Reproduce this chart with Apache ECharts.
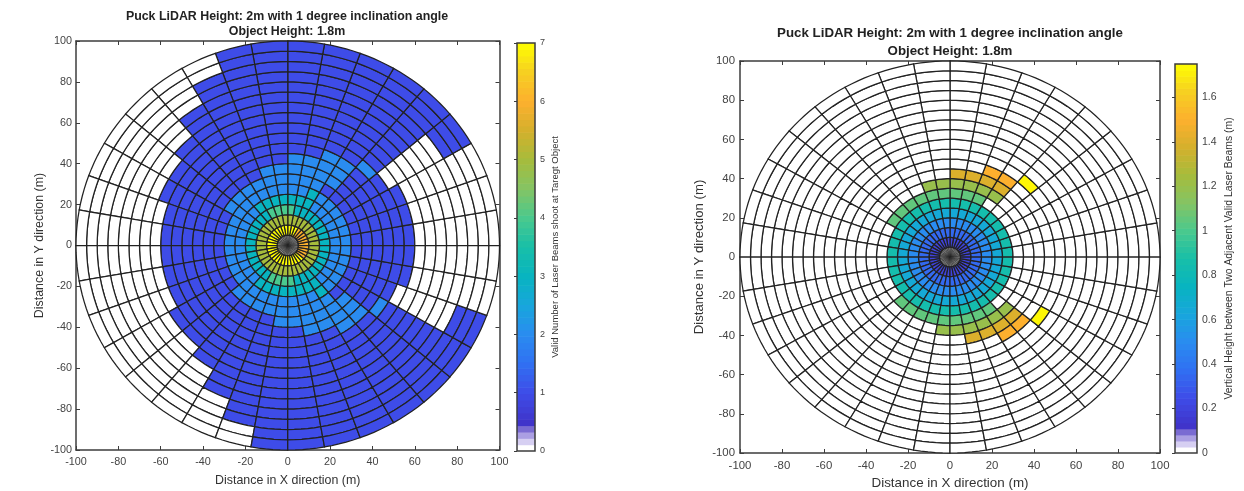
<!DOCTYPE html>
<html><head><meta charset="utf-8">
<style>html,body{margin:0;padding:0;background:#fff}#c{width:1244px;height:491px}</style>
<script src="https://cdn.jsdelivr.net/npm/echarts@6/dist/echarts.min.js"></script>
</head><body><div id="c"></div>
<script>
// rows = rings of 5 m (0-5, 5-10, ...), columns = sectors of 10 degrees counter-clockwise from +X
const ringStep = 5, sectorStep = 10;
const beamCounts = [
[0,0,0,0,0,0,0,0,0,0,0,0,0,0,0,0,0,0,0,0,0,0,0,0,0,0,0,0,0,0,0,0,0,0,0,0],
[6,6,6,6,6,6,7,7,7,7,7,7,7,7,7,7,7,7,7,7,7,7,7,7,7,7,7,7,7,7,7,7,6,6,6,6],
[5,5,5,5,5,5,5,5,5,5,5,5,5,5,5,5,5,5,5,5,5,5,5,5,5,5,5,5,5,5,5,5,5,5,5,5],
[3,3,3,3,3,3,3,3,4,4,4,4,3,3,3,3,3,3,3,3,3,3,3,3,4,4,4,4,3,3,3,3,3,3,3,3],
[2,2,2,2,2,2,3,3,3,3,3,3,3,2,2,2,2,2,2,2,2,2,2,3,3,3,3,3,3,3,3,2,2,2,2,2],
[2,2,2,2,2,2,3,2,2,2,2,2,2,2,2,2,2,2,2,2,2,2,2,2,2,2,2,2,2,2,3,2,2,2,2,2],
[1,1,1,1,1,1,2,2,2,2,2,2,2,2,2,1,1,1,1,1,1,1,2,2,2,2,2,2,2,2,2,1,1,1,1,1],
[1,1,1,1,1,2,2,2,2,2,2,1,1,1,1,1,1,1,1,1,1,1,1,1,1,1,2,2,2,2,2,2,1,1,1,1],
[1,1,1,1,1,2,2,2,2,1,1,1,1,1,1,1,1,1,1,1,1,1,1,1,1,1,1,1,2,2,2,2,1,1,1,1],
[1,1,1,1,1,2,2,1,1,1,1,1,1,1,1,1,1,1,1,1,1,1,1,1,1,1,1,1,1,1,2,2,1,1,1,1],
[1,1,1,1,2,1,1,1,1,1,1,1,1,1,1,1,1,1,1,1,1,1,1,1,1,1,1,1,1,1,1,1,2,1,1,1],
[1,1,1,0,1,1,1,1,1,1,1,1,1,1,1,1,1,1,1,1,1,1,1,1,1,1,1,1,1,1,1,1,1,0,1,1],
[0,0,0,0,1,1,1,1,1,1,1,1,1,1,1,1,0,0,0,0,0,1,1,1,1,1,1,1,1,1,1,1,1,0,0,0],
[0,0,0,0,1,1,1,1,1,1,1,1,1,1,0,0,0,0,0,0,0,0,0,1,1,1,1,1,1,1,1,1,1,0,0,0],
[0,0,0,0,1,1,1,1,1,1,1,1,1,0,0,0,0,0,0,0,0,0,0,0,1,1,1,1,1,1,1,1,1,0,0,0],
[0,0,0,0,1,1,1,1,1,1,1,1,1,0,0,0,0,0,0,0,0,0,0,0,1,1,1,1,1,1,1,1,1,0,0,0],
[0,0,0,0,1,1,1,1,1,1,1,1,0,0,0,0,0,0,0,0,0,0,0,0,0,1,1,1,1,1,1,1,1,0,0,0],
[0,0,0,1,1,1,1,1,1,1,1,1,0,0,0,0,0,0,0,0,0,0,0,0,0,1,1,1,1,1,1,1,1,1,0,0],
[0,0,0,1,1,1,1,1,1,1,1,0,0,0,0,0,0,0,0,0,0,0,0,0,0,0,1,1,1,1,1,1,1,1,0,0],
[0,0,0,1,1,1,1,1,1,1,1,0,0,0,0,0,0,0,0,0,0,0,0,0,0,0,1,1,1,1,1,1,1,1,0,0]
];
const Z = 0;
const beamGaps = [
[Z,Z,Z,Z,Z,Z,Z,Z,Z,Z,Z,Z,Z,Z,Z,Z,Z,Z,Z,Z,Z,Z,Z,Z,Z,Z,Z,Z,Z,Z,Z,Z,Z,Z,Z,Z],
[.2,.2,.2,.2,.2,.2,.2,.2,.2,.2,.2,.2,.2,.2,.2,.2,.2,.2,.2,.2,.2,.2,.2,.2,.2,.2,.2,.2,.2,.2,.2,.2,.2,.2,.2,.2],
[.35,.35,.35,.35,.35,.35,.35,.35,.35,.35,.35,.35,.35,.35,.35,.35,.35,.35,.35,.35,.35,.35,.35,.35,.35,.35,.35,.35,.35,.35,.35,.35,.35,.35,.35,.35],
[.5,.5,.5,.5,.5,.5,.5,.5,.5,.5,.5,.5,.5,.5,.5,.5,.5,.5,.5,.5,.5,.5,.5,.5,.5,.5,.5,.5,.5,.5,.5,.5,.5,.5,.5,.5],
[.65,.65,.65,.65,.65,.65,.65,.65,.65,.65,.65,.65,.65,.65,.65,.65,.65,.65,.65,.65,.65,.65,.65,.65,.65,.65,.65,.65,.65,.65,.65,.65,.65,.65,.65,.65],
[.85,.85,.85,.85,.85,.85,.85,.85,.85,.85,.85,.85,.85,.85,.85,.85,.85,.85,.85,.85,.85,.85,.85,.85,.85,.85,.85,.85,.85,.85,.85,.85,.85,.85,.85,.85],
[Z,Z,Z,Z,Z,Z,1.05,1.05,1.05,1.05,1.05,1.05,1.05,1.05,1.05,Z,Z,Z,Z,Z,Z,Z,1.05,1.05,1.05,1.05,1.05,1.05,1.05,1.05,1.05,Z,Z,Z,Z,Z],
[Z,Z,Z,Z,Z,1.2,1.2,1.2,1.2,1.2,1.2,Z,Z,Z,Z,Z,Z,Z,Z,Z,Z,Z,Z,Z,Z,Z,1.2,1.2,1.2,1.2,1.2,1.2,Z,Z,Z,Z],
[Z,Z,Z,Z,Z,1.4,1.4,1.4,1.4,Z,Z,Z,Z,Z,Z,Z,Z,Z,Z,Z,Z,Z,Z,Z,Z,Z,Z,Z,1.4,1.4,1.4,1.4,Z,Z,Z,Z],
[Z,Z,Z,Z,Z,1.5,1.5,Z,Z,Z,Z,Z,Z,Z,Z,Z,Z,Z,Z,Z,Z,Z,Z,Z,Z,Z,Z,Z,Z,Z,1.5,1.5,Z,Z,Z,Z],
[Z,Z,Z,Z,1.73,Z,Z,Z,Z,Z,Z,Z,Z,Z,Z,Z,Z,Z,Z,Z,Z,Z,Z,Z,Z,Z,Z,Z,Z,Z,Z,Z,1.73,Z,Z,Z],
[Z,Z,Z,Z,Z,Z,Z,Z,Z,Z,Z,Z,Z,Z,Z,Z,Z,Z,Z,Z,Z,Z,Z,Z,Z,Z,Z,Z,Z,Z,Z,Z,Z,Z,Z,Z],
[Z,Z,Z,Z,Z,Z,Z,Z,Z,Z,Z,Z,Z,Z,Z,Z,Z,Z,Z,Z,Z,Z,Z,Z,Z,Z,Z,Z,Z,Z,Z,Z,Z,Z,Z,Z],
[Z,Z,Z,Z,Z,Z,Z,Z,Z,Z,Z,Z,Z,Z,Z,Z,Z,Z,Z,Z,Z,Z,Z,Z,Z,Z,Z,Z,Z,Z,Z,Z,Z,Z,Z,Z],
[Z,Z,Z,Z,Z,Z,Z,Z,Z,Z,Z,Z,Z,Z,Z,Z,Z,Z,Z,Z,Z,Z,Z,Z,Z,Z,Z,Z,Z,Z,Z,Z,Z,Z,Z,Z],
[Z,Z,Z,Z,Z,Z,Z,Z,Z,Z,Z,Z,Z,Z,Z,Z,Z,Z,Z,Z,Z,Z,Z,Z,Z,Z,Z,Z,Z,Z,Z,Z,Z,Z,Z,Z],
[Z,Z,Z,Z,Z,Z,Z,Z,Z,Z,Z,Z,Z,Z,Z,Z,Z,Z,Z,Z,Z,Z,Z,Z,Z,Z,Z,Z,Z,Z,Z,Z,Z,Z,Z,Z],
[Z,Z,Z,Z,Z,Z,Z,Z,Z,Z,Z,Z,Z,Z,Z,Z,Z,Z,Z,Z,Z,Z,Z,Z,Z,Z,Z,Z,Z,Z,Z,Z,Z,Z,Z,Z],
[Z,Z,Z,Z,Z,Z,Z,Z,Z,Z,Z,Z,Z,Z,Z,Z,Z,Z,Z,Z,Z,Z,Z,Z,Z,Z,Z,Z,Z,Z,Z,Z,Z,Z,Z,Z],
[Z,Z,Z,Z,Z,Z,Z,Z,Z,Z,Z,Z,Z,Z,Z,Z,Z,Z,Z,Z,Z,Z,Z,Z,Z,Z,Z,Z,Z,Z,Z,Z,Z,Z,Z,Z]
];
const titleText = 'Puck LiDAR Height: 2m with 1 degree inclination angle\nObject Height: 1.8m';
const xName = 'Distance in X direction (m)';
const yName = 'Distance in Y direction (m)';
const leftBarName = 'Valid Number of Laser Beams shoot at Taregt Object';
const rightBarName = 'Vertical Height between Two Adjacent Valid Laser Beams (m)';
const leftBarMax = 7, rightBarMax = 1.75;
const bottomBands = ['#ffffff', '#d6cff2', '#ab9fe3', '#7a6bd2'];
const colorPositions = [0.4, 1, 1.5, 2, 2.5, 3, 3.5, 4, 4.5, 5, 5.5, 6, 6.5, 7];
const colorValues = ['#4030c4','#3e4ce8','#3070f2','#2a8cf0','#18a6dc','#08b4c0','#18bfa8','#4ac98e','#84c464','#a6bc3c','#d4b02c','#fdb02e','#f6cf22','#ffff00'];
const bandCount = 64;

const ink = '#222', axisInk = '#3c3c3c', labelInk = '#444';
const fontFamily = 'Liberation Sans, Arial, sans-serif';

function hex(c){return [1,3,5].map(i=>parseInt(c.substr(i,2),16));}
function colorAt(p){ // p in the 0..7 scale of the colour bar
  const band = Math.min(bandCount-1, Math.floor(p/7*bandCount));
  if (band < bottomBands.length) return bottomBands[band];
  if (p <= colorPositions[0]) return colorValues[0];
  for (let i=1;i<colorPositions.length;i++){
    if (p <= colorPositions[i]){
      const t=(p-colorPositions[i-1])/(colorPositions[i]-colorPositions[i-1]);
      const a=hex(colorValues[i-1]), b=hex(colorValues[i]);
      return 'rgb('+a.map((v,k)=>Math.round(v+(b[k]-v)*t)).join(',')+')';
    }
  }
  return colorValues[colorValues.length-1];
}
function cells(matrix){
  const out=[];
  matrix.forEach((row,i)=>row.forEach((v,j)=>out.push([j*sectorStep,i*ringStep,v])));
  return out;
}
function polarSeries(matrix,barMax,xi,yi){
  return {type:'custom',coordinateSystem:'cartesian2d',xAxisIndex:xi,yAxisIndex:yi,clip:false,silent:true,
    data:cells(matrix),encode:{x:0,y:1},
    renderItem:function(params,api){
      const th=api.value(0), r=api.value(1), v=api.value(2), pts=[];
      const steps=5;
      for(let k=0;k<=steps;k++){const a=(th+k/steps*sectorStep)*Math.PI/180;
        pts.push(api.coord([(r+ringStep)*Math.cos(a),(r+ringStep)*Math.sin(a)]));}
      for(let k=steps;k>=0;k--){const a=(th+k/steps*sectorStep)*Math.PI/180;
        pts.push(api.coord([r*Math.cos(a),r*Math.sin(a)]));}
      return {type:'polygon',shape:{points:pts},
        style:r===0?{fill:'#8a8a8a',stroke:'#222',lineWidth:0.55}
                   :{fill:colorAt(v*7/barMax),stroke:ink,lineWidth:1.25}};
    }};
}
function barSeries(barMax,xi,yi){
  const bands=[]; for(let i=0;i<bandCount;i++) bands.push([i]);
  return {type:'custom',xAxisIndex:xi,yAxisIndex:yi,silent:true,data:bands,encode:{x:[],y:[]},
    renderItem:function(params,api){
      const i=api.value(0), s=barMax/bandCount;
      const a=api.coord([0,i*s]), b=api.coord([1,(i+1)*s]);
      return {type:'rect',shape:{x:a[0],y:b[1],width:b[0]-a[0],height:a[1]-b[1]+0.6},
        style:{fill:colorAt((i+0.5)/bandCount*7)}};
    }};
}
function boxAxes(g,isX,name,gap,nameSize,tickSize,margin){
  const base={gridIndex:g,min:-100,max:100,interval:20,splitLine:{show:false},
    axisLine:{show:true,onZero:false,lineStyle:{color:axisInk,width:1.5}},
    axisTick:{show:true,inside:true,length:4,lineStyle:{color:axisInk,width:1}}};
  return [
    Object.assign({},base,{position:isX?'bottom':'left',name:name,nameLocation:'middle',nameGap:gap,
      nameTextStyle:{color:'#333',fontSize:nameSize,fontFamily},
      axisLabel:{margin:margin,showMinLabel:true,showMaxLabel:true,color:labelInk,fontSize:tickSize,fontFamily}}),
    Object.assign({},base,{position:isX?'top':'right',axisLabel:{show:false}})
  ];
}
const option={
  backgroundColor:'#fff',animation:false,
  title:[
    {text:titleText,left:282,top:4,textAlign:'center',textStyle:{fontSize:12.4,fontWeight:'bold',color:'#222',lineHeight:15,fontFamily}},
    {text:titleText,left:945,top:19,textAlign:'center',textStyle:{fontSize:13.3,fontWeight:'bold',color:'#222',lineHeight:18,fontFamily}}
  ],
  grid:[
    {left:76,top:41,width:423.5,height:409,outerBoundsMode:'none'},
    {left:740,top:61,width:420,height:392,outerBoundsMode:'none'},
    {left:517,top:43,width:18,height:408,show:true,borderColor:axisInk,borderWidth:1.5,z:5,backgroundColor:'transparent',outerBoundsMode:'none'},
    {left:1175,top:64,width:22,height:389,show:true,borderColor:axisInk,borderWidth:1.5,z:5,backgroundColor:'transparent',outerBoundsMode:'none'}
  ],
  xAxis:[
    ...boxAxes(0,true,xName,25,12.4,10.8,7),
    ...boxAxes(1,true,xName,24,13.4,11.4,7),
    {gridIndex:2,type:'value',min:0,max:1,show:false},
    {gridIndex:3,type:'value',min:0,max:1,show:false}
  ],
  yAxis:[
    ...boxAxes(0,false,yName,30,12.4,10.8,4),
    ...boxAxes(1,false,yName,34,13.2,11.4,5),
    {gridIndex:2,type:'value',min:0,max:leftBarMax,interval:1,position:'right',name:leftBarName,nameLocation:'middle',nameRotate:90,nameGap:15,
      nameTextStyle:{color:'#333',fontSize:9.5,fontFamily},splitLine:{show:false},
      axisLine:{show:false},axisTick:{show:true,inside:true,length:3,lineStyle:{color:axisInk}},
      axisLabel:{margin:5,color:labelInk,fontSize:9,fontFamily}},
    {gridIndex:3,type:'value',min:0,max:rightBarMax,interval:0.2,position:'right',name:rightBarName,nameLocation:'middle',nameRotate:90,nameGap:27,
      nameTextStyle:{color:'#333',fontSize:10.4,fontFamily},splitLine:{show:false},
      axisLine:{show:false},axisTick:{show:true,inside:true,length:3,lineStyle:{color:axisInk}},
      axisLabel:{margin:5,color:labelInk,fontSize:10.5,fontFamily,showMaxLabel:false}}
  ],
  series:[
    polarSeries(beamCounts,leftBarMax,0,0),
    polarSeries(beamGaps,rightBarMax,2,2),
    barSeries(leftBarMax,4,4),
    barSeries(rightBarMax,5,5)
  ]
};
const chart=echarts.init(document.getElementById('c'),null,{renderer:'canvas',width:1244,height:491});
chart.setOption(option);
</script></body></html>
